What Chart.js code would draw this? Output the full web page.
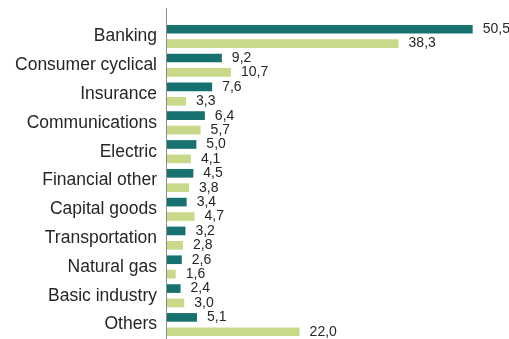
<!DOCTYPE html>
<html>
<head>
<meta charset="utf-8">
<script src="https://cdn.jsdelivr.net/npm/chart.js@4/dist/chart.umd.min.js"></script>
<style>
  html, body { margin: 0; padding: 0; background: #ffffff; }
  #wrap { width: 509px; height: 339px; position: relative; }
</style>
</head>
<body>
<div id="wrap"><canvas id="chart"></canvas></div>
<script>
// Sector breakdown (%), two series per sector
const sectors = [
  'Banking', 'Consumer cyclical', 'Insurance', 'Communications', 'Electric',
  'Financial other', 'Capital goods', 'Transportation', 'Natural gas',
  'Basic industry', 'Others'
];
const seriesA = [50.5, 9.2, 7.6, 6.4, 5.0, 4.5, 3.4, 3.2, 2.6, 2.4, 5.1];
const seriesB = [38.3, 10.7, 3.3, 5.7, 4.1, 3.8, 4.7, 2.8, 1.6, 3.0, 22.0];

const FONT = '"Liberation Sans", Arial, sans-serif';

// Writes each bar's value just past its end, with a decimal comma
const valueLabels = {
  id: 'valueLabels',
  afterDatasetsDraw(chart) {
    const ctx = chart.ctx;
    ctx.save();
    ctx.font = '14px ' + FONT;
    ctx.fillStyle = '#262626';
    ctx.textAlign = 'left';
    ctx.textBaseline = 'middle';
    chart.data.datasets.forEach((ds, i) => {
      const meta = chart.getDatasetMeta(i);
      meta.data.forEach((bar, j) => {
        const txt = ds.data[j].toFixed(1).replace('.', ',');
        ctx.fillText(txt, bar.x + 10, bar.y);
      });
    });
    ctx.restore();
  }
};

// Vertical baseline at zero, running a little above the first category
const baseline = {
  id: 'baseline',
  afterDatasetsDraw(chart) {
    const ctx = chart.ctx;
    const x = Math.round(chart.scales.x.getPixelForValue(0)) + 0.5;
    ctx.save();
    ctx.strokeStyle = '#8c8c8c';
    ctx.lineWidth = 1;
    ctx.beginPath();
    ctx.moveTo(x, 8);
    ctx.lineTo(x, chart.height);
    ctx.stroke();
    ctx.restore();
  }
};

new Chart(document.getElementById('chart'), {
  type: 'bar',
  data: {
    labels: sectors,
    datasets: [
      { label: 'Series A', data: seriesA, backgroundColor: '#17716f', borderWidth: 0 },
      { label: 'Series B', data: seriesB, backgroundColor: '#c8da8a', borderWidth: 0 }
    ]
  },
  options: {
    indexAxis: 'y',
    responsive: true,
    maintainAspectRatio: false,
    animation: false,
    layout: { padding: { top: 22, right: 9, bottom: 0, left: 0 } },
    datasets: { bar: { categoryPercentage: 1.0, barPercentage: 0.6 } },
    plugins: { legend: { display: false }, tooltip: { enabled: false } },
    scales: {
      x: {
        display: false,
        min: 0,
        max: 55
      },
      y: {
        afterFit(scale) {
          scale.width = 166;
          scale.paddingTop = 0;
          scale.paddingBottom = 0;
        },
        grid: { display: false, drawTicks: false },
        border: { display: false },
        ticks: {
          padding: 9,
          color: '#262626',
          font: { family: FONT, size: 17.5 }
        }
      }
    }
  },
  plugins: [valueLabels, baseline]
});
</script>
</body>
</html>
